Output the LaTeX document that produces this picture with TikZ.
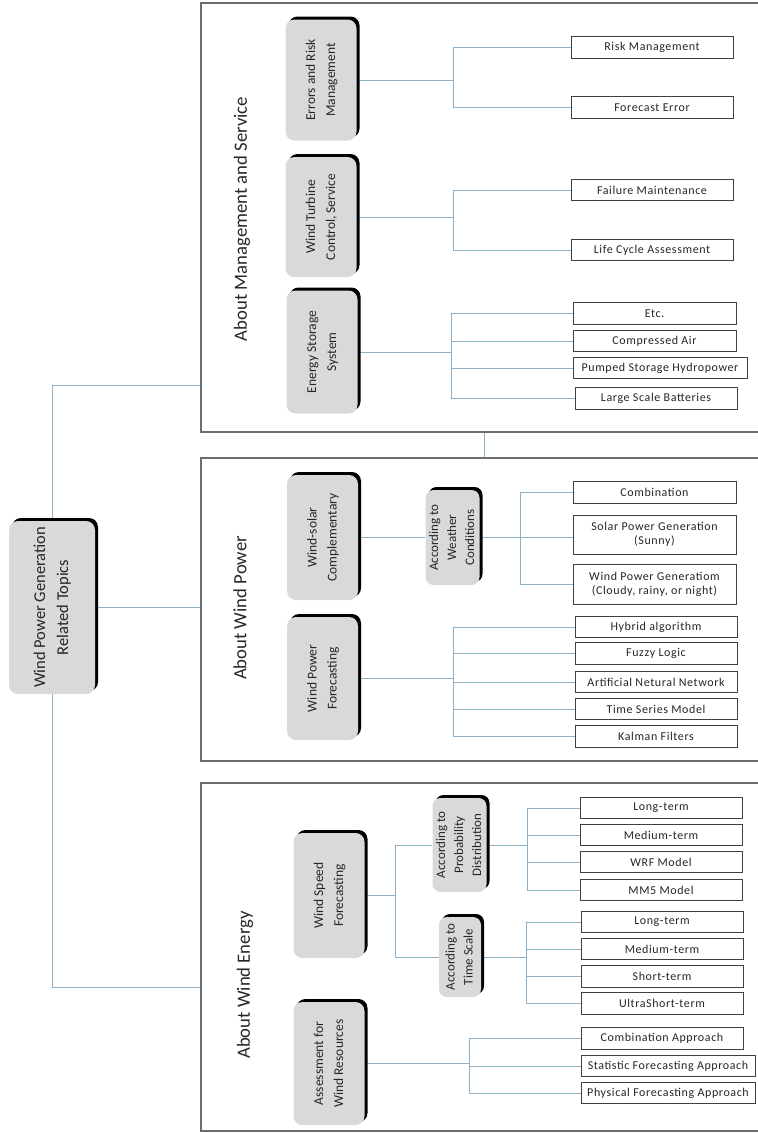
\documentclass[tikz,border=0pt]{standalone}
\usepackage{fontspec}
\setmainfont{Carlito}
\usepackage{graphicx}
\usetikzlibrary{shadows,backgrounds}

\definecolor{catgray}{HTML}{D9D9D9}
\definecolor{linkblue}{HTML}{8DB0CB}
\definecolor{framegray}{HTML}{6E6E6E}
\definecolor{leafline}{HTML}{404040}
\definecolor{inkgray}{HTML}{262626}

% vertical (bottom-to-top) multi-line label
\newcommand{\vlabel}[1]{\rotatebox{90}{\begin{tabular}{@{}c@{}}#1\end{tabular}}}

\begin{document}
\begin{tikzpicture}[x=1pt,y=-1pt,
  catbox/.style={rectangle, rounded corners=9pt, fill=catgray, draw=none,
    inner sep=0pt, text=inkgray,
    drop shadow={shadow xshift=3pt, shadow yshift=3pt, fill=black, opacity=1}},
  topic/.style={catbox, minimum width=71pt, minimum height=123pt,
    font=\fontsize{13.5}{20}\selectfont},
  rootbox/.style={catbox, minimum width=86pt, minimum height=173pt,
    font=\fontsize{16.5}{23}\selectfont},
  subtopic/.style={catbox, rounded corners=8pt, font=\fontsize{13}{18}\selectfont},
  leaf/.style={rectangle, draw=leafline, line width=0.9pt, fill=white,
    inner sep=0pt, minimum width=162pt, minimum height=21.5pt, text=inkgray,
    align=center, font=\fontsize{12}{14}\selectfont\addfontfeatures{LetterSpace=5}},
  wideleaf/.style={leaf, minimum width=174pt},
  link/.style={draw=linkblue, line width=0.8pt},
  frame/.style={draw=framegray, line width=1.3pt},
  section/.style={inner sep=0pt, text=inkgray, font=\fontsize{18.7}{22}\selectfont}
]
\useasboundingbox (0,0) rectangle (758,1133);

% ---------- section frames (open on the right) ----------
\draw[frame] (758,3) -- (201,3) -- (201,432) -- (758,432);
\draw[frame] (758,458) -- (201,458) -- (201,761) -- (758,761);
\draw[frame] (758,783) -- (201,783) -- (201,1131) -- (758,1131);

\coordinate (mIn) at (201,385);
\coordinate (pIn) at (201,607.5);
\coordinate (eIn) at (201,987);
\coordinate (mBot) at (484,432);
\coordinate (pTop) at (484,458);

% ---------- section titles ----------
\node[section] (tMgmt)  at (242,219) {\rotatebox{90}{About Management and Service}};
\node[section] (tPower) at (240,608) {\rotatebox{90}{About Wind Power}};
\node[section] (tEnergy) at (245,985) {\rotatebox{90}{About Wind Energy}};

% ---------- root ----------
\node[rootbox] (root) at (52,607.5) {\vlabel{Wind Power Generation\\Related Topics}};

% ---------- management and service ----------
\node[topic, minimum height=121pt] (err) at (321,80) {\vlabel{Errors and Risk\\Management}};
\node[topic, minimum height=120pt] (wtc) at (321,217) {\vlabel{Wind Turbine\\Control, Service}};
\node[topic] (ess) at (322,352) {\vlabel{Energy Storage\\System}};

\node[leaf] (rm)  at (652,47.5)  {Risk Management};
\node[leaf] (fe)  at (652,107.5) {Forecast Error};
\node[leaf] (fm)  at (652,190)   {Failure Maintenance};
\node[leaf] (lca) at (652,250)   {Life Cycle Assessment};
\node[leaf, minimum width=163pt] (etc) at (654.5,313.5) {Etc.};
\node[leaf, minimum width=163pt] (ca)  at (654.5,341)   {Compressed Air};
\node[wideleaf] (psh) at (660,368)   {Pumped Storage Hydropower};
\node[leaf] (lsb) at (656,398.5) {Large Scale Batteries};

\coordinate (jErr) at (453,80);
\coordinate (jWtc) at (453,217);
\coordinate (jEss) at (451,352);

% ---------- wind power ----------
\node[topic, minimum height=125pt] (ws) at (322.5,537.5) {\vlabel{Wind-solar\\Complementary}};
\node[topic] (wpf) at (322.5,678.5) {\vlabel{Wind Power\\Forecasting}};
\node[subtopic, minimum width=53pt, minimum height=95pt] (acw) at (452.5,537.5)
  {\vlabel{According to\\Weather\\Conditions}};

\node[leaf, minimum width=163pt] (comb) at (654.5,492.5) {Combination};
\node[leaf, minimum width=163pt, minimum height=39pt] (solar) at (654.5,534.5)
  {Solar Power Generation\\(Sunny)};
\node[leaf, minimum width=163pt, minimum height=40pt] (wpg) at (654.5,584)
  {Wind Power Generatiom\\(Cloudy, rainy, or night)};
\node[leaf] (hyb) at (656,627)   {Hybrid algorithm};
\node[leaf] (fuz) at (656,653.5) {Fuzzy Logic};
\node[leaf] (ann) at (656,682)   {Artificial Netural Network};
\node[leaf] (tsm) at (656,709)   {Time Series Model};
\node[leaf] (kal) at (656,736.5) {Kalman Filters};

\coordinate (jAcw) at (520,537.5);
\coordinate (jWpf) at (453,678.5);

% ---------- wind energy ----------
\node[topic, minimum height=125pt] (wsf) at (329,895.5) {\vlabel{Wind Speed\\Forecasting}};
\node[topic] (awr) at (329,1063.5) {\vlabel{Assessment for\\Wind Resources}};
\node[subtopic, minimum width=53pt, minimum height=94pt] (acp) at (459.5,845)
  {\vlabel{According to\\Probability\\Distribution}};
\node[subtopic, minimum width=42pt, minimum height=80pt] (act) at (460,957)
  {\vlabel{According to\\Time Scale}};

\node[leaf] (pLong) at (661,808) {Long-term};
\node[leaf] (pMed)  at (661,835) {Medium-term};
\node[leaf] (wrf)   at (661,862) {WRF Model};
\node[leaf] (mm5)   at (661,890) {MM5 Model};
\node[leaf] (tLong)  at (662,922)    {Long-term};
\node[leaf] (tMed)   at (662,949)    {Medium-term};
\node[leaf] (tShort) at (662,976.5)  {Short-term};
\node[leaf] (tUltra) at (662,1003.5) {UltraShort-term};
\node[leaf] (cap) at (662,1038.5) {Combination Approach};
\node[wideleaf] (sfa) at (668,1066) {Statistic Forecasting Approach};
\node[wideleaf] (pfa) at (668,1093) {Physical Forecasting Approach};

\coordinate (jWsf) at (395,895.5);
\coordinate (jAcp) at (527,845);
\coordinate (jAct) at (526,957);
\coordinate (jAwr) at (469,1063.5);

% ---------- connectors ----------
\begin{scope}[on background layer]
  \draw[link] (root.north) |- (mIn);
  \draw[link] (root.east) -- (pIn);
  \draw[link] (root.south) |- (eIn);
  \draw[link] (mBot) -- (pTop);

  \draw[link] (err.east) -- (jErr);
  \draw[link] (rm.west) -| (jErr);
  \draw[link] (fe.west) -| (jErr);

  \draw[link] (wtc.east) -- (jWtc);
  \draw[link] (fm.west) -| (jWtc);
  \draw[link] (lca.west) -| (jWtc);

  \draw[link] (ess.east) -- (jEss);
  \foreach \n in {etc,ca,psh,lsb} \draw[link] (\n.west) -| (jEss);

  \draw[link] (ws.east) -- (acw.west);
  \draw[link] (acw.east) -- (acw.east -| solar.west);
  \draw[link] (comb.west) -| (jAcw);
  \draw[link] (wpg.west) -| (jAcw);

  \draw[link] (wpf.east) -- (jWpf);
  \foreach \n in {hyb,fuz,ann,tsm,kal} \draw[link] (\n.west) -| (jWpf);

  \draw[link] (wsf.east) -- (jWsf);
  \draw[link] (acp.west) -| (jWsf);
  \draw[link] (act.west) -| (jWsf);

  \draw[link] (acp.east) -- (jAcp);
  \foreach \n in {pLong,pMed,wrf,mm5} \draw[link] (\n.west) -| (jAcp);

  \draw[link] (act.east) -- (jAct);
  \foreach \n in {tLong,tMed,tShort,tUltra} \draw[link] (\n.west) -| (jAct);

  \draw[link] (awr.east) -- (jAwr);
  \foreach \n in {cap,sfa,pfa} \draw[link] (\n.west) -| (jAwr);
\end{scope}
\end{tikzpicture}
\end{document}
